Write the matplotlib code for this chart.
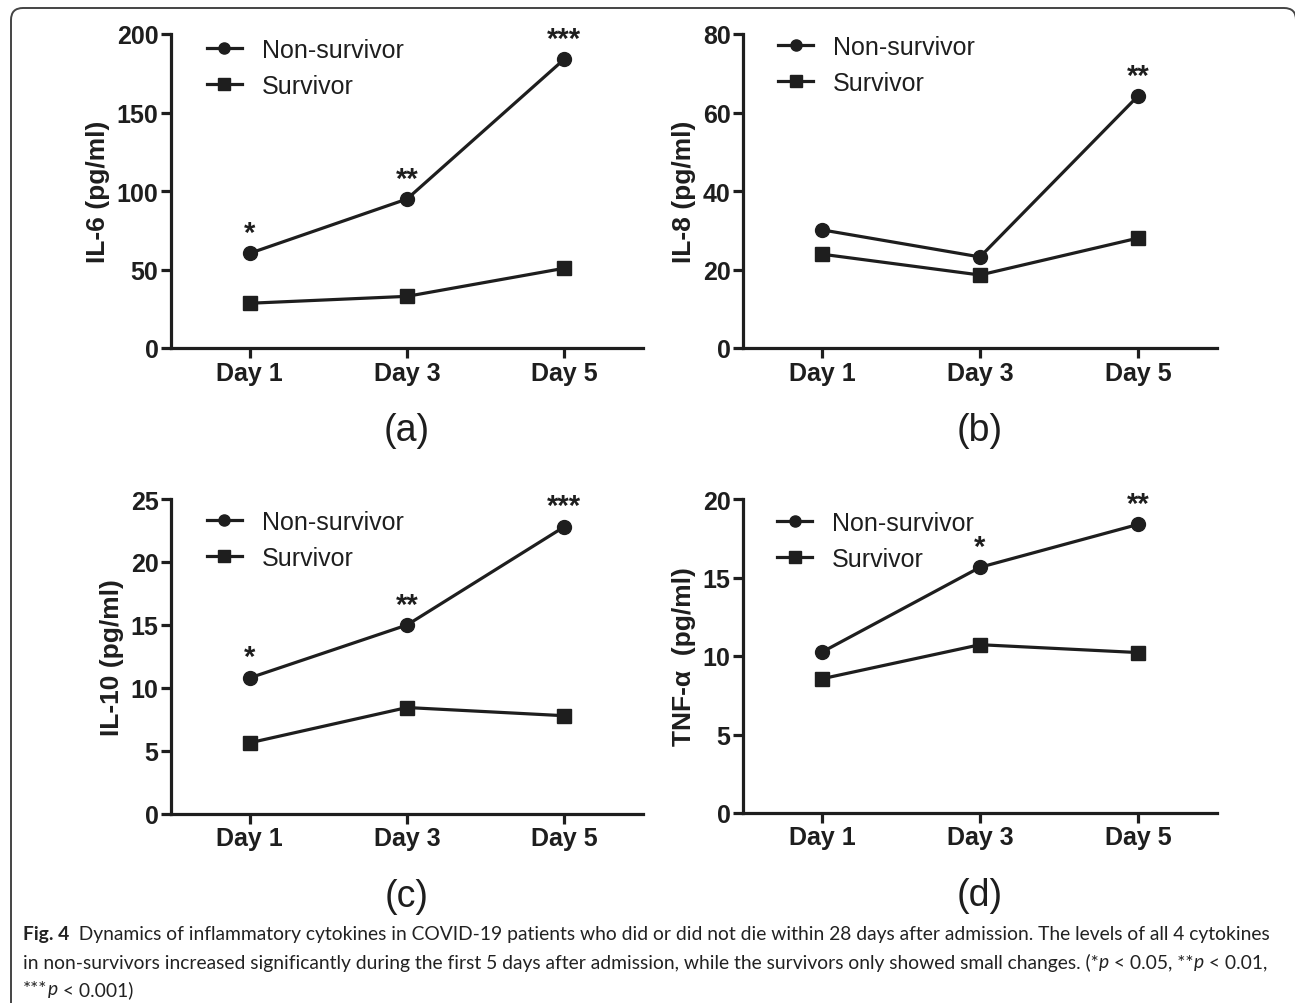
import numpy as np
import matplotlib
matplotlib.use("Agg")
import matplotlib.pyplot as plt
from matplotlib.patches import FancyBboxPatch
from matplotlib.transforms import IdentityTransform

plt.rcParams['font.family'] = ['Liberation Sans', 'DejaVu Sans']

# Werte
days = [1, 3, 5]
day_labels = ['Day 1', 'Day 3', 'Day 5']

il6_non = [60.3, 94.9, 184.0]
il6_surv = [28.5, 32.9, 50.8]
il6_stars = ['*', '**', '***']

il8_non = [30.1, 23.2, 64.2]
il8_surv = [23.9, 18.6, 28.0]
il8_stars = ['', '', '**']

il10_non = [10.8, 15.0, 22.8]
il10_surv = [5.65, 8.45, 7.8]
il10_stars = ['*', '**', '***']

tnf_non = [10.25, 15.65, 18.38]
tnf_surv = [8.55, 10.72, 10.22]
tnf_stars = ['', '*', '**']

W, H = 1295, 1004
dark = '#1e1e1e'

fig = plt.figure(figsize=(W / 100, H / 100), dpi=100)

def box(l, t, r, b):
    return [l / W, 1 - b / H, (r - l) / W, (b - t) / H]

panels = [
    (box(171, 35, 643, 349), il6_non, il6_surv, il6_stars, 200, 50, 'IL-6 (pg/ml)', '(a)', (0.076, 0.987)),
    (box(743, 35, 1217, 349), il8_non, il8_surv, il8_stars, 80, 20, 'IL-8 (pg/ml)', '(b)', (0.074, 0.997)),
    (box(171, 500, 643, 815), il10_non, il10_surv, il10_stars, 25, 5, 'IL-10 (pg/ml)', '(c)', (0.076, 0.965)),
    (box(743, 500, 1217, 814), tnf_non, tnf_surv, tnf_stars, 20, 5, 'TNF-α  (pg/ml)', '(d)', (0.072, 0.962)),
]

for pos, non, surv, stars, ymax, ystep, ylab, tag, legpos in panels:
    ax = fig.add_axes(pos)
    ax.plot(days, non, '-o', color=dark, lw=2.3, ms=10, label='Non-survivor', clip_on=False)
    ax.plot(days, surv, '-s', color=dark, lw=2.3, ms=10, label='Survivor', clip_on=False)
    for d, v, s in zip(days, non, stars):
        if s:
            ax.annotate(s, (d, v), xytext=(0, 9), textcoords='offset points',
                        ha='center', va='baseline', fontsize=21, fontweight='bold', color=dark)
    ax.set_xlim(0, 6)
    ax.set_ylim(0, ymax)
    ax.set_xticks(days)
    ax.set_xticklabels(day_labels)
    ax.set_yticks(np.arange(0, ymax + 0.1, ystep))
    for sp in ['top', 'right']:
        ax.spines[sp].set_visible(False)
    for sp in ['left', 'bottom']:
        ax.spines[sp].set_linewidth(2.3)
        ax.spines[sp].set_color(dark)
    ax.tick_params(direction='out', length=7, width=2.3, color=dark, labelcolor=dark,
                   labelsize=18, pad=2)
    for lab in ax.get_xticklabels() + ax.get_yticklabels():
        lab.set_fontweight('bold')
    ax.set_ylabel(ylab, fontsize=19, fontweight='bold', color=dark, labelpad=5)
    leg = ax.legend(loc='upper left', bbox_to_anchor=legpos, frameon=False, fontsize=18,
                    handlelength=1.4, handletextpad=0.8, labelspacing=0.48,
                    borderpad=0, borderaxespad=0, markerscale=0.8)
    for t in leg.get_texts():
        t.set_color(dark)
    fig.text(pos[0] + pos[2] / 2, pos[1] - 82 / H, tag, ha='center', va='center',
             fontsize=27, color=dark)

# Rahmen
frame = FancyBboxPatch((11, -30), 1296 - 11, (H - 9) + 30,
                       boxstyle='round,pad=0,rounding_size=12',
                       transform=IdentityTransform(), fill=False,
                       edgecolor='#444444', lw=1.4)
fig.patches.append(frame)

# Bildunterschrift
cap_font = ['Lato', 'Liberation Sans']
renderer = fig.canvas.get_renderer()

line1 = [('Fig. 4', 'bold', 'normal'),
         ('  Dynamics of inflammatory cytokines in COVID-19 patients who did or did not die '
          'within 28 days after admission. The levels of all 4 cytokines', 'normal', 'normal')]
line2 = [('in non-survivors increased significantly during the first 5 days after admission, '
          'while the survivors only showed small changes. (*', 'normal', 'normal'),
         ('p', 'normal', 'italic'), (' < 0.05, **', 'normal', 'normal'),
         ('p', 'normal', 'italic'), (' < 0.01,', 'normal', 'normal')]
line3 = [('***', 'normal', 'normal'), ('p', 'normal', 'italic'),
         (' < 0.001)', 'normal', 'normal')]

def put_line(x_px, y_px, pieces, size):
    x = x_px
    texts = []
    for txt, weight, style in pieces:
        t = fig.text(x / W, 1 - y_px / H, txt, fontsize=size, fontweight=weight,
                     fontstyle=style, family=cap_font, color='#222222',
                     ha='left', va='center')
        texts.append(t)
        x = t.get_window_extent(renderer).x1
    return x, texts

# Schriftgröße so wählen, dass Zeile 1 bis x=1275 reicht
end, tmp = put_line(23, 935, line1, 15)
for t in tmp:
    t.remove()
cap_size = 15 * (1275 - 23) / (end - 23)

put_line(23, 935, line1, cap_size)
put_line(23, 963, line2, cap_size)
put_line(23, 990, line3, cap_size)

fig.savefig('out.png', dpi=100)
